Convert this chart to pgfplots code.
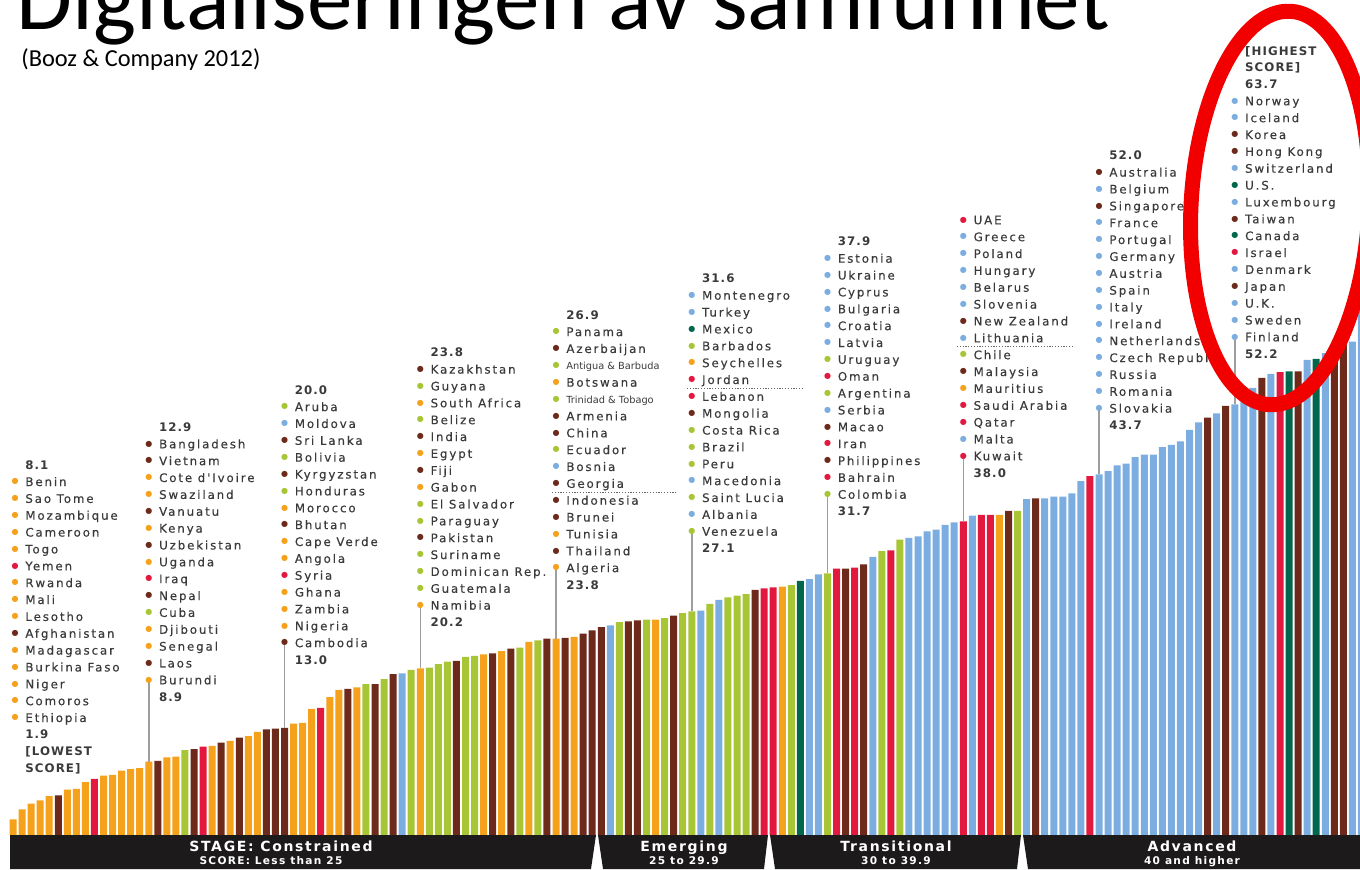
\documentclass[border=0pt]{standalone}
\usepackage{pgfplots}
\pgfplotsset{compat=1.18}
\usepackage{fontspec}
\setmainfont{Carlito}
\newfontfamily\lab[LetterSpace=16,FakeBold=0.35]{DejaVu Sans}
\newfontfamily\labb[LetterSpace=9]{DejaVu Sans Bold}
\newfontfamily\stg[LetterSpace=12]{DejaVu Sans}
\newfontfamily\djv{DejaVu Sans}
\definecolor{cO}{HTML}{F5A11C}
\definecolor{cB}{HTML}{6D2A1B}
\definecolor{cR}{HTML}{E2183F}
\definecolor{cG}{HTML}{A8C536}
\definecolor{cL}{HTML}{7BADE0}
\definecolor{cD}{HTML}{00674C}
\definecolor{txt}{HTML}{3A3A3A}
\definecolor{blk}{HTML}{1C1A1A}
\tikzset{
 lb/.style={anchor=base west,inner sep=0pt,text=txt,font=\lab\fontsize{5.9}{7}\selectfont},
 lbb/.style={anchor=base west,inner sep=0pt,text=txt,font=\labb\fontsize{5.9}{7}\selectfont},
 dotn/.style={inner sep=0pt,font=\djv\fontsize{4}{4}\selectfont},
 leader/.style={draw=black!38,line width=0.75pt},
 dots/.style={draw=black!60,line width=0.6pt,dash pattern=on 0.6pt off 0.8pt}
}
\newcommand\grp[3]{%
 \foreach [count=\k from 0] \cc/\nn in {#3} {%
   \pgfmathsetmacro\yy{869-(#2+\k*16.86)}%
   \node[dotn,text=\cc] at (#1,\yy) {●};%
   \node[lb] at (#1+10,\yy-4.3) {\nn};%
 }}
\newcommand\num[3]{\node[lbb] at (#1+10,{869-#2-4.3}) {#3};}
\newcommand\sm[1]{{\djv\fontsize{4.9}{6}\selectfont #1}}
\begin{document}
\begin{tikzpicture}[x=0.5pt,y=0.5pt]
\begin{axis}[at={(0pt,17pt)},anchor=south west,scale only axis,width=680pt,height=417.5pt,
  xmin=-1.4365,xmax=148.84,ymin=0,ymax=101.21,hide axis]
\addplot[ybar,bar shift=0pt,bar width=3.5pt,fill=cO,draw=none] coordinates {(0,1.9)(1,3.1)(2,3.8)(3,4.2)(4,4.7)(6,5.5)(7,5.6)(8,6.4)(10,7.2)(11,7.3)(12,7.8)(13,8.0)(14,8.1)(15,8.9)(17,9.4)(18,9.5)(22,10.8)(24,11.4)(26,12.0)(27,12.5)(31,13.5)(32,13.6)(33,15.3)(35,16.7)(36,17.6)(38,17.9)(45,20.2)(52,21.9)(54,22.3)(57,23.4)(60,23.8)(62,24.0)(71,26.1)(85,30.1)(109,38.8)};
\addplot[ybar,bar shift=0pt,bar width=3.5pt,fill=cB,draw=none] coordinates {(5,4.8)(16,9.0)(20,10.4)(23,11.2)(25,11.8)(28,12.8)(29,12.9)(30,13.0)(37,17.7)(40,18.3)(42,19.5)(49,21.1)(53,22.0)(55,22.6)(59,23.8)(61,23.9)(63,24.4)(64,24.8)(65,25.2)(68,25.9)(69,26.0)(73,26.6)(82,29.7)(92,32.3)(94,32.8)(110,39.3)(113,40.8)(132,50.6)(134,52.0)(138,55.4)(142,56.2)(146,58.8)(147,59.4)};
\addplot[ybar,bar shift=0pt,bar width=3.5pt,fill=cR,draw=none] coordinates {(9,6.8)(21,10.7)(34,15.4)(83,29.9)(84,30.0)(91,32.3)(93,32.4)(97,34.5)(105,38.0)(107,38.8)(108,38.8)(119,43.5)(140,56.1)};
\addplot[ybar,bar shift=0pt,bar width=3.5pt,fill=cG,draw=none] coordinates {(19,10.3)(39,18.3)(41,18.9)(44,20.0)(46,20.3)(47,20.7)(48,21.0)(50,21.6)(51,21.7)(56,22.7)(58,23.6)(67,25.8)(70,26.1)(72,26.3)(74,26.9)(75,27.1)(77,28.0)(79,28.8)(80,29.0)(81,29.2)(86,30.3)(90,31.7)(96,34.4)(98,35.8)(111,39.3)};
\addplot[ybar,bar shift=0pt,bar width=3.5pt,fill=cL,draw=none] coordinates {(43,19.6)(66,25.4)(76,27.2)(78,28.5)(88,31.0)(89,31.6)(95,33.7)(99,36.0)(100,36.2)(101,36.8)(102,37.0)(103,37.6)(104,37.9)(106,38.7)(112,40.7)(114,40.8)(115,41.0)(116,41.0)(117,41.4)(118,42.9)(120,43.7)(121,44.1)(122,44.8)(123,45.0)(124,45.8)(125,46.1)(126,46.1)(127,47.0)(128,47.3)(129,47.7)(130,49.1)(131,50.0)(133,51.1)(135,52.2)(136,53.1)(137,54.2)(139,55.9)(143,57.6)(145,58.4)(148,59.8)(149,63.7)};
\addplot[ybar,bar shift=0pt,bar width=3.5pt,fill=cD,draw=none] coordinates {(87,30.8)(141,56.2)(144,57.7)};
\end{axis}
\pgfresetboundingbox
\useasboundingbox (0,0) rectangle (1360,869);
\clip (0,0) rectangle (1360,869);
% stage bars
\fill[blk] (10,34) -- (596,34) -- (591,0) -- (10,0) -- cycle;
\fill[blk] (598,34) -- (768,34) -- (764,0) -- (603,0) -- cycle;
\fill[blk] (770,34) -- (1021,34) -- (1017,0) -- (775,0) -- cycle;
\fill[blk] (1023,34) -- (1370,34) -- (1370,0) -- (1028,0) -- cycle;
\begin{scope}[every node/.style={text=white,inner sep=0pt,anchor=base}]
\node[font=\stg\bfseries\fontsize{7}{8}\selectfont] at (281,18) {STAGE: Constrained};
\node[font=\stg\bfseries\fontsize{5.3}{6}\selectfont] at (271,4.5) {SCORE: Less than 25};
\node[font=\stg\bfseries\fontsize{7}{8}\selectfont] at (684,18) {Emerging};
\node[font=\stg\bfseries\fontsize{5.3}{6}\selectfont] at (684,4.5) {25 to 29.9};
\node[font=\stg\bfseries\fontsize{7}{8}\selectfont] at (896,18) {Transitional};
\node[font=\stg\bfseries\fontsize{5.3}{6}\selectfont] at (896,4.5) {30 to 39.9};
\node[font=\stg\bfseries\fontsize{7}{8}\selectfont] at (1192,18) {Advanced};
\node[font=\stg\bfseries\fontsize{5.3}{6}\selectfont] at (1192,4.5) {40 and higher};
\end{scope}
% leader lines
\foreach \xx/\yd/\vv in {148.75/680/8.9,284.5/642.8/13.0,420.25/605.3/20.2,556/567.8/23.8,691.75/531.4/27.1,827.5/494.4/31.7,963.25/456/38.0,1099/408.3/43.7,1234.75/337/52.2}
  \draw[leader] (\xx,869-\yd) -- (\xx,{34+\vv*8.25});
% dotted separators
\draw[dots] (552,{869-492.7}) -- (677,{869-492.7});
\draw[dots] (687,{869-388.3}) -- (803,{869-388.3});
\draw[dots] (957,{869-346.7}) -- (1072,{869-346.7});
% group 1
\num{15}{465}{8.1}
\grp{15}{481.7}{cO/Benin,cO/Sao Tome,cO/Mozambique,cO/Cameroon,cO/Togo,cR/Yemen,cO/Rwanda,cO/Mali,cO/Lesotho,cB/Afghanistan,cO/Madagascar,cO/Burkina Faso,cO/Niger,cO/Comoros,cO/Ethiopia}
\num{15}{734.6}{1.9}
\num{15}{751.4}{[LOWEST}
\num{15}{768.3}{SCORE]}
% group 2
\num{148.75}{427.3}{12.9}
\grp{148.75}{444}{cB/Bangladesh,cB/Vietnam,cO/Cote d'Ivoire,cO/Swaziland,cB/Vanuatu,cO/Kenya,cB/Uzbekistan,cO/Uganda,cR/Iraq,cB/Nepal,cG/Cuba,cO/Djibouti,cO/Senegal,cB/Laos,cO/Burundi}
\num{148.75}{696.9}{8.9}
% group 3
\num{284.5}{390}{20.0}
\grp{284.5}{406.8}{cG/Aruba,cL/Moldova,cB/Sri Lanka,cG/Bolivia,cB/Kyrgyzstan,cG/Honduras,cO/Morocco,cB/Bhutan,cO/Cape Verde,cO/Angola,cR/Syria,cO/Ghana,cO/Zambia,cO/Nigeria,cB/Cambodia}
\num{284.5}{659.7}{13.0}
% group 4
\num{420.25}{352.5}{23.8}
\grp{420.25}{369.3}{cB/Kazakhstan,cG/Guyana,cO/South Africa,cG/Belize,cB/India,cO/Egypt,cB/Fiji,cO/Gabon,cG/El Salvador,cG/Paraguay,cB/Pakistan,cG/Suriname,cG/Dominican Rep.,cG/Guatemala,cO/Namibia}
\num{420.25}{622.2}{20.2}
% group 5
\num{556}{315}{26.9}
\grp{556}{331.8}{cG/Panama,cB/Azerbaijan,cG/{\sm{Antigua \& Barbuda}},cO/Botswana,cG/{\sm{Trinidad \& Tobago}},cB/Armenia,cB/China,cG/Ecuador,cL/Bosnia,cB/Georgia,cB/Indonesia,cB/Brunei,cO/Tunisia,cB/Thailand,cO/Algeria}
\num{556}{584.7}{23.8}
% group 6
\num{691.75}{278.5}{31.6}
\grp{691.75}{295.4}{cL/Montenegro,cL/Turkey,cD/Mexico,cG/Barbados,cO/Seychelles,cR/Jordan,cR/Lebanon,cB/Mongolia,cG/Costa Rica,cG/Brazil,cG/Peru,cL/Macedonia,cG/Saint Lucia,cL/Albania,cG/Venezuela}
\num{691.75}{548.3}{27.1}
% group 7
\num{827.5}{241.6}{37.9}
\grp{827.5}{258.4}{cL/Estonia,cL/Ukraine,cL/Cyprus,cL/Bulgaria,cL/Croatia,cL/Latvia,cG/Uruguay,cR/Oman,cG/Argentina,cL/Serbia,cB/Macao,cR/Iran,cB/Philippines,cR/Bahrain,cG/Colombia}
\num{827.5}{511.3}{31.7}
% group 8
\grp{963.25}{220}{cR/UAE,cL/Greece,cL/Poland,cL/Hungary,cL/Belarus,cL/Slovenia,cB/New Zealand,cL/Lithuania,cG/Chile,cB/Malaysia,cO/Mauritius,cR/Saudi Arabia,cR/Qatar,cL/Malta,cR/Kuwait}
\num{963.25}{472.9}{38.0}
% group 9
\num{1099}{155.5}{52.0}
\grp{1099}{172.3}{cB/Australia,cL/Belgium,cB/Singapore,cL/France,cL/Portugal,cL/Germany,cL/Austria,cL/Spain,cL/Italy,cL/Ireland,cL/Netherlands,cL/Czech Republic,cL/Russia,cL/Romania,cL/Slovakia}
\num{1099}{425.2}{43.7}
% group 10
\num{1234.75}{51}{[HIGHEST}
\num{1234.75}{67.6}{SCORE]}
\num{1234.75}{84.3}{63.7}
\grp{1234.75}{101}{cL/Norway,cL/Iceland,cB/Korea,cB/Hong Kong,cL/Switzerland,cD/U.S.,cL/Luxembourg,cB/Taiwan,cD/Canada,cR/Israel,cL/Denmark,cB/Japan,cL/U.K.,cL/Sweden,cL/Finland}
\num{1234.75}{353.9}{52.2}
% title
\node[anchor=base west,inner sep=0pt,font=\fontsize{45.5}{50}\selectfont] at (16,{869-30}) {Digitaliseringen av samfunnet};
\node[anchor=base west,inner sep=0pt,font=\fontsize{12.2}{14}\selectfont] at (21,{869-67}) {(Booz \& Company 2012)};
% red ellipse
\draw[draw={rgb,255:red,242;green,0;blue,0},line width=7.5pt,rotate around={-3:(1280,661)}] (1280,661) ellipse [x radius=89,y radius=197];
\end{tikzpicture}
\end{document}
